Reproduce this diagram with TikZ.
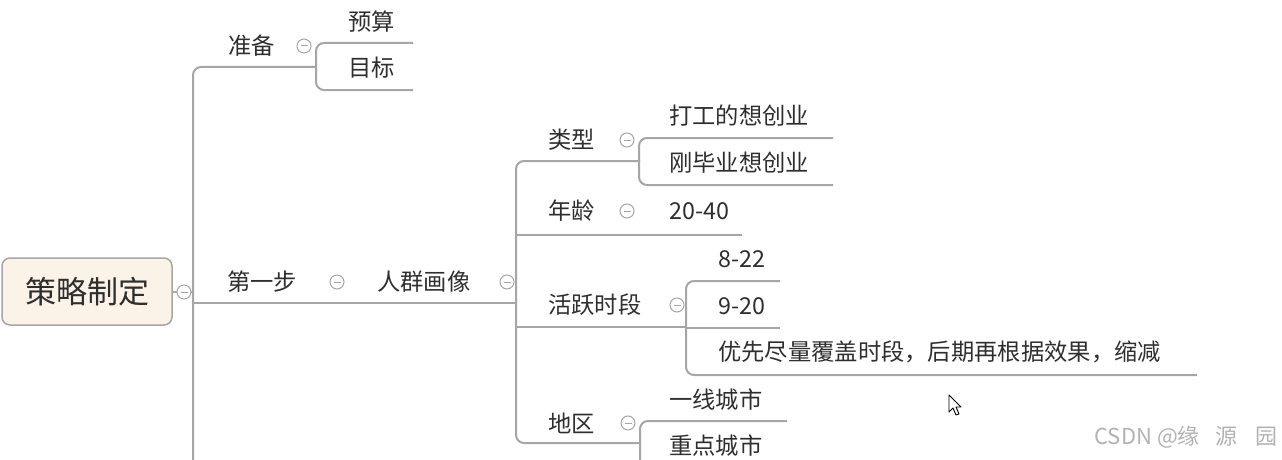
\documentclass[tikz,border=0pt]{standalone}
\usepackage{fontspec}
\setmainfont{Noto Sans CJK SC}
\definecolor{ln}{HTML}{A6A6A6}
\definecolor{tx}{HTML}{2E2E2E}
\definecolor{rootfill}{HTML}{FBF2E8}
\tikzset{
  conn/.style={draw=ln,line width=2pt,rounded corners=8pt},
  lbl/.style={inner sep=0pt,text=tx,font=\fontsize{23.3}{27}\selectfont},
  lblw/.style={lbl,anchor=west},
  rootbox/.style={draw=ln,line width=1.5pt,fill=rootfill,rounded corners=8pt,minimum width=170pt,minimum height=67pt,text=tx,font=\fontsize{31}{35}\selectfont},
  coll/.style={circle,draw=ln,line width=1pt,fill=white,minimum size=14pt,inner sep=0pt,
    path picture={\draw[ln,line width=1pt] ([xshift=-3.5pt]path picture bounding box.center) -- ([xshift=3.5pt]path picture bounding box.center);}},
  wm/.style={inner sep=0pt,text=black!30,font=\fontsize{22}{26}\selectfont,anchor=east}
}
\begin{document}
\begin{tikzpicture}[x=1pt,y=-1pt]
\useasboundingbox (0,0) rectangle (1282,460);
% connectors
\coordinate (mtop) at (316,67);
\coordinate (mbot) at (193,470);
\draw[conn] (mtop) -- (193,67) -- (mbot);
\draw[conn] (172,292) -- (193,292);
\draw[conn] (193,303) -- (516,303);
% 准备 bracket
\draw[conn] (413,43) -- (316,43) -- (316,90) -- (413,90);
% 人群画像 bracket
\draw[conn] (640,161) -- (516,161) -- (516,443) -- (640,443);
\draw[conn] (516,235) -- (742,235);
\draw[conn] (516,327) -- (686,327);
% 类型 bracket
\draw[conn] (833,138) -- (639,138) -- (639,185) -- (833,185);
% 活跃时段 bracket
\draw[conn] (780,281) -- (686,281) -- (686,375) -- (1197,375);
\draw[conn] (686,328) -- (780,328);
% 地区 bracket
\draw[conn] (787,421) -- (640,421) -- (640,470);
\draw[conn] (640,467) -- (787,467);

% root
\node[rootbox] (root) at (87,291.5) {策略制定};
\node[coll] (croot) at (184,292) {};

% level 1
\node[lblw] (zhunbei) at (228,46) {准备};
\node[coll] (czb) at (304,46) {};
\node[lblw] (yusuan) at (348,22) {预算};
\node[lblw] (mubiao) at (348,68) {目标};

\node[lblw] (diyibu) at (227,282) {第一步};
\node[coll] (cdyb) at (337,282) {};
\node[lblw] (renqun) at (377,282) {人群画像};
\node[coll] (crq) at (507,282) {};

% level 3
\node[lblw] (leixing) at (548,140) {类型};
\node[coll] (clx) at (627,140) {};
\node[lblw] (dagong) at (669,116) {打工的想创业};
\node[lblw] (ganbiye) at (669,163) {刚毕业想创业};

\node[lblw] (nianling) at (548,211) {年龄};
\node[coll] (cnl) at (627,211) {};
\node[lblw] (age) at (669,211) {20-40};

\node[lblw] (huoyue) at (548,305) {活跃时段};
\node[coll] (chy) at (677,305) {};
\node[lblw] (t1) at (718,259) {8-22};
\node[lblw] (t2) at (718,306) {9-20};
\node[lblw] (t3) at (718,352) {优先尽量覆盖时段，后期再根据效果，缩减};

\node[lblw] (diqu) at (548,423) {地区};
\node[coll] (cdq) at (628,423) {};
\node[lblw] (yixian) at (669,400) {一线城市};
\node[lblw] (zhongdian) at (669,446) {重点城市};

% cursor
\draw[black,fill=white,line width=0.9pt,line join=round] (949,395) -- (949,412) -- (953,408) -- (956,415) -- (959,414) -- (956,407) -- (961,407) -- cycle;

% watermark
\node[wm] (wmk) at (1278,437) {CSDN @缘\hspace{16pt}源\hspace{18pt}园};
\end{tikzpicture}
\end{document}
